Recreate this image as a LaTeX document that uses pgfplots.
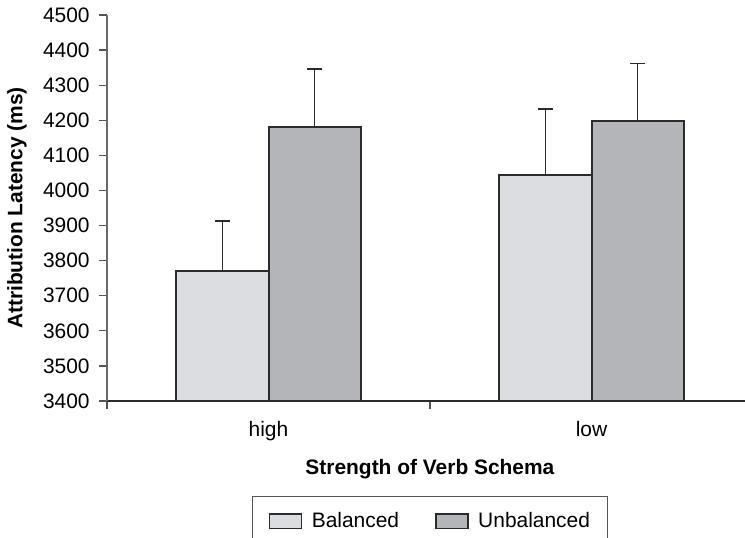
\documentclass[border=0pt]{standalone}
\usepackage{pgfplots}
\pgfplotsset{compat=1.18}
\usepackage{fontspec}
\setmainfont{Liberation Sans}
\definecolor{balfill}{HTML}{DCDDE0}
\definecolor{unbfill}{HTML}{B4B5B8}
\definecolor{edge}{HTML}{2B2B2B}
\definecolor{axgray}{HTML}{555555}
\definecolor{yaxgray}{HTML}{6A6A6A}
\begin{document}
\begin{tikzpicture}[font=\fontsize{15.7}{19}\selectfont]
\begin{axis}[
  at={(0,0)}, anchor=south west,
  scale only axis,
  width=484.5pt, height=289.5pt,
  xmin=-0.5, xmax=1.5,
  ymin=3400, ymax=4500,
  ytick={3400,3500,...,4500},
  xtick={-0.5,0.5,1.5},
  xticklabels={},
  extra x ticks={0,1},
  extra x tick labels={high,low},
  extra x tick style={major tick length=0pt, xticklabel style={yshift=-12pt}},
  axis lines*=left,
  x axis line style={draw=edge, line width=1pt},
  y axis line style={draw=yaxgray, line width=1.5pt},
  every tick/.style={draw=axgray, line width=1pt},
  tick align=outside,
  major tick length=6pt,
  /pgf/number format/assume math mode=true,
  yticklabel style={/pgf/number format/1000 sep={}, xshift=-3.5pt},
  ylabel={\textbf{Attribution Latency (ms)}},
  ylabel style={at={(rel axis cs:0,0.5)}, anchor=center, yshift=67.5pt},
  xlabel={\textbf{Strength of Verb Schema}},
  xlabel style={at={(rel axis cs:0.5,0)}, anchor=center, yshift=-51pt},
  ybar=0pt,
  bar width=0.285,
  error bars/y dir=plus,
  error bars/y explicit,
  error bars/error bar style={draw=edge, line width=1pt},
  error bars/error mark options={rotate=90, draw=edge, line width=1pt, mark size=5.6pt},
  legend columns=2,
  legend style={at={(0.5,0)}, anchor=north, yshift=-71.25pt,
    draw=axgray, line width=0.9pt,
    inner xsep=6pt, inner ysep=9pt,
    /tikz/every even column/.append style={column sep=14pt},
    nodes={inner xsep=7pt, inner ysep=3pt}},
  legend cell align=left,
  legend image code/.code={\path (0pt,0pt); \draw[#1, line width=1.2pt] (6pt,-5.6pt) rectangle (30pt,5.6pt);},
]
\addplot[fill=balfill, draw=edge, line width=1.5pt] coordinates {
  (0,3770) +- (0,143)
  (1,4045) +- (0,187)
};
\addplot[fill=unbfill, draw=edge, line width=1.5pt] coordinates {
  (0,4180) +- (0,166)
  (1,4198) +- (0,164)
};
\legend{Balanced, Unbalanced}
\end{axis}
\pgfresetboundingbox
\path (-80.25pt,-102.75pt) rectangle (478.5pt,300.75pt);
\end{tikzpicture}
\end{document}
